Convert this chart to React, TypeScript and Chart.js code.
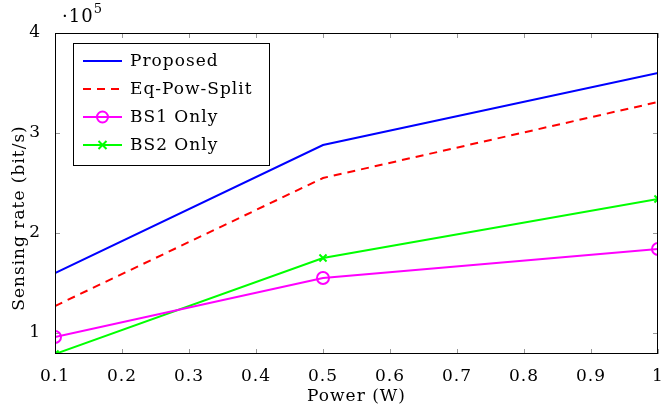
import React, { useEffect, useRef } from "react";
import { Chart, registerables } from "chart.js";

Chart.register(...registerables);

const powers = [0.1, 0.5, 1];
const proposed = [1.6e5, 2.88e5, 3.6e5];
const eqPowSplit = [1.27e5, 2.55e5, 3.31e5];
const bs1Only = [0.96e5, 1.55e5, 1.84e5];
const bs2Only = [0.79e5, 1.75e5, 2.34e5];
const xTicks = [0.1, 0.2, 0.3, 0.4, 0.5, 0.6, 0.7, 0.8, 0.9, 1];
const yTicks = [1e5, 2e5, 3e5, 4e5];
const seriesNames = ["Proposed", "Eq-Pow-Split", "BS1 Only", "BS2 Only"];

const FONT = "'DejaVu Serif', serif";

const decorPlugin = {
  id: "decor",
  beforeDraw(chart: any) {
    (chart.ctx as any).letterSpacing = "1px";
  },
  beforeDatasetsDraw(chart: any) {
    const { ctx, chartArea: a, scales } = chart;
    const xs = scales.x;
    const ys = scales.y;
    ctx.save();
    ctx.strokeStyle = "#999";
    ctx.lineWidth = 1;
    const tl = 5;
    xTicks.forEach((v) => {
      const px = Math.round(xs.getPixelForValue(v)) + 0.5;
      ctx.beginPath();
      ctx.moveTo(px, a.bottom);
      ctx.lineTo(px, a.bottom - tl);
      ctx.moveTo(px, a.top);
      ctx.lineTo(px, a.top + tl);
      ctx.stroke();
    });
    yTicks.forEach((v) => {
      const py = Math.round(ys.getPixelForValue(v)) + 0.5;
      ctx.beginPath();
      ctx.moveTo(a.left, py);
      ctx.lineTo(a.left + tl, py);
      ctx.moveTo(a.right, py);
      ctx.lineTo(a.right - tl, py);
      ctx.stroke();
    });
    ctx.restore();
  },
  afterDatasetsDraw(chart: any) {
    const { ctx, chartArea: a } = chart;
    ctx.save();
    (ctx as any).letterSpacing = "1px";
    // frame
    ctx.strokeStyle = "#000";
    ctx.lineWidth = 1;
    ctx.strokeRect(a.left + 0.5, a.top + 0.5, a.right - a.left - 1, a.bottom - a.top - 1);
    // exponent
    ctx.fillStyle = "#000";
    ctx.textBaseline = "alphabetic";
    ctx.textAlign = "left";
    ctx.font = `18px ${FONT}`;
    ctx.fillText("·10", 62, 22);
    const w = ctx.measureText("·10").width;
    ctx.font = `13px ${FONT}`;
    ctx.fillText("5", 62 + w, 13);
    // y title
    ctx.save();
    ctx.translate(24, 218);
    ctx.rotate(-Math.PI / 2);
    ctx.textAlign = "center";
    ctx.font = `17px ${FONT}`;
    ctx.fillText("Sensing rate (bit/s)", 0, 0);
    ctx.restore();
    // x title
    ctx.textAlign = "center";
    ctx.font = `17px ${FONT}`;
    ctx.fillText("Power (W)", (a.left + a.right) / 2, 401);
    // legend
    const bx = 73, by = 43, bw = 196, bh = 122;
    ctx.fillStyle = "#fff";
    ctx.fillRect(bx, by, bw, bh);
    ctx.strokeStyle = "#000";
    ctx.lineWidth = 1;
    ctx.strokeRect(bx + 0.5, by + 0.5, bw, bh);
    const rows = [61, 89, 117, 145];
    chart.data.datasets.forEach((ds: any, i: number) => {
      const y = rows[i];
      ctx.save();
      ctx.strokeStyle = ds.borderColor;
      ctx.lineWidth = 2;
      ctx.setLineDash(ds.borderDash || []);
      ctx.beginPath();
      ctx.moveTo(83, y);
      ctx.lineTo(122, y);
      ctx.stroke();
      ctx.setLineDash([]);
      if (ds.pointStyle === "circle" && ds.pointRadius > 0) {
        ctx.beginPath();
        ctx.arc(102.5, y, 5.5, 0, Math.PI * 2);
        ctx.stroke();
      } else if (ds.pointStyle === "crossRot" && ds.pointRadius > 0) {
        const r = 4;
        ctx.beginPath();
        ctx.moveTo(102.5 - r, y - r);
        ctx.lineTo(102.5 + r, y + r);
        ctx.moveTo(102.5 - r, y + r);
        ctx.lineTo(102.5 + r, y - r);
        ctx.stroke();
      }
      ctx.restore();
      ctx.fillStyle = "#000";
      ctx.textAlign = "left";
      ctx.textBaseline = "middle";
      ctx.font = `17px ${FONT}`;
      ctx.fillText(ds.label, 130, y + 1);
    });
    ctx.restore();
  },
};

export default function App() {
  const ref = useRef<HTMLCanvasElement>(null);
  useEffect(() => {
    document.body.style.margin = "0";
    const toPts = (arr: number[]) => powers.map((x, i) => ({ x, y: arr[i] }));
    const chart = new Chart(ref.current as HTMLCanvasElement, {
      type: "line",
      data: {
        datasets: [
          {
            label: seriesNames[0],
            data: toPts(proposed),
            borderColor: "#0000ff",
            borderWidth: 2,
            pointRadius: 0,
            pointStyle: "circle",
          },
          {
            label: seriesNames[1],
            data: toPts(eqPowSplit),
            borderColor: "#ff0000",
            borderWidth: 2,
            borderDash: [8, 6],
            pointRadius: 0,
            pointStyle: "circle",
          },
          {
            label: seriesNames[2],
            data: toPts(bs1Only),
            borderColor: "#ff00ff",
            borderWidth: 2,
            pointRadius: 6,
            pointBorderWidth: 2,
            pointBackgroundColor: "rgba(0,0,0,0)",
            pointStyle: "circle",
          },
          {
            label: seriesNames[3],
            data: toPts(bs2Only),
            borderColor: "#00ff00",
            borderWidth: 2,
            pointRadius: 5,
            pointBorderWidth: 2,
            pointStyle: "crossRot",
          },
        ] as any,
      },
      options: {
        animation: false,
        responsive: false,
        maintainAspectRatio: false,
        layout: { autoPadding: false, padding: { top: 33, right: 3, left: 0, bottom: 0 } },
        plugins: { legend: { display: false }, tooltip: { enabled: false } },
        elements: { line: { tension: 0 } },
        scales: {
          x: {
            type: "linear",
            min: 0.1,
            max: 1,
            grid: { display: false },
            border: { display: false },
            afterBuildTicks: (s: any) => {
              s.ticks = xTicks.map((v) => ({ value: v }));
            },
            afterFit: (s: any) => {
              s.height = 57;
              s.paddingLeft = 0;
              s.paddingRight = 0;
            },
            ticks: {
              padding: 4,
              color: "#000",
              font: { family: FONT, size: 17 },
              callback: (v: any) => (Number(v) === 1 ? "1" : Number(v).toFixed(1)),
            },
          },
          y: {
            type: "linear",
            min: 0.79e5,
            max: 4e5,
            grid: { display: false },
            border: { display: false },
            afterBuildTicks: (s: any) => {
              s.ticks = yTicks.map((v) => ({ value: v }));
            },
            afterFit: (s: any) => {
              s.width = 55;
              s.paddingTop = 0;
              s.paddingBottom = 0;
            },
            ticks: {
              padding: 6,
              color: "#000",
              font: { family: FONT, size: 17 },
              callback: (v: any) => String(Math.round(Number(v) / 1e5)),
            },
          },
        },
      } as any,
      plugins: [decorPlugin],
    });
    return () => chart.destroy();
  }, []);
  return <canvas ref={ref} width={661} height={411} style={{ display: "block" }} />;
}
